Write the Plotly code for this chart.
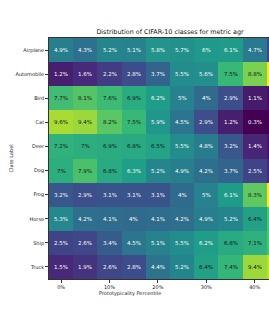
import plotly.graph_objects as go

classes = ["Airplane", "Automobile", "Bird", "Cat", "Deer", "Dog", "Frog", "Horse", "Ship", "Truck"]
percentiles = [0, 5, 10, 15, 20, 25, 30, 35, 40, 45]
tick_labels = ["0%", "10%", "20%", "30%", "40%"]

airplane = [4.9, 4.3, 5.2, 5.1, 5.8, 5.7, 6.0, 6.1, 4.7, 2.5]
automobile = [1.2, 1.6, 2.2, 2.8, 3.7, 5.5, 5.6, 7.5, 8.8, 11.0]
bird = [7.7, 8.1, 7.6, 6.9, 6.2, 5.0, 4.0, 2.9, 1.1, 0.8]
cat = [9.6, 9.4, 8.2, 7.5, 5.9, 4.5, 2.9, 1.2, 0.3, 0.3]
deer = [7.2, 7.0, 6.9, 6.8, 6.5, 5.5, 4.8, 3.2, 1.4, 1.0]
dog = [7.0, 7.9, 6.8, 6.3, 5.2, 4.9, 4.2, 3.7, 2.5, 1.5]
frog = [3.2, 2.9, 3.1, 3.1, 3.1, 4.0, 5.0, 6.1, 8.3, 11.0]
horse = [5.3, 4.2, 4.1, 4.0, 4.1, 4.2, 4.9, 5.2, 6.4, 8.0]
ship = [2.5, 2.6, 3.4, 4.5, 5.1, 5.5, 6.2, 6.8, 7.1, 8.0]
truck = [1.5, 1.9, 2.6, 2.8, 4.4, 5.2, 6.4, 7.4, 9.4, 10.0]

z = [airplane, automobile, bird, cat, deer, dog, frog, horse, ship, truck]

W, H = 269, 314
ML, MR, MT, MB = 49, 0, 38, 35
cell_w = 24.2
plot_w = W - ML - MR
plot_h = H - MT - MB
ncols_vis = plot_w / cell_w

fig = go.Figure(go.Heatmap(
    z=z, x=list(range(len(percentiles))), y=classes,
    colorscale="Viridis", zmin=0.3, zmax=11.0, showscale=False,
    xgap=0, ygap=0, hoverinfo="skip",
))

def fmt(v):
    s = f"{v:.1f}"
    if s.endswith(".0"):
        s = s[:-2]
    return s + "%"

annotations = []
for i, row in enumerate(z):
    for j, v in enumerate(row[:9]):
        annotations.append(dict(
            x=j, y=classes[i], xref="x", yref="y", text=fmt(v), showarrow=False,
            font=dict(size=5.5, color="#111111" if v >= 6.35 else "#ffffff",
                      family="DejaVu Sans"),
        ))

annotations.append(dict(text="Prototypicality Percentile", x=(130 - ML) / plot_w,
                        y=-(293 - (H - MB)) / plot_h,
                        xref="paper", yref="paper", showarrow=False, xanchor="center", yanchor="middle",
                        font=dict(size=5, family="DejaVu Sans", color="#222222")))
annotations.append(dict(text="Class Label", x=-(ML - 10) / plot_w, y=0.5, textangle=-90,
                        xref="paper", yref="paper", showarrow=False, xanchor="center", yanchor="middle",
                        font=dict(size=5, family="DejaVu Sans", color="#222222")))

fig.update_layout(
    width=W, height=H,
    margin=dict(l=ML, r=MR, t=MT, b=MB, autoexpand=False),
    paper_bgcolor="white", plot_bgcolor="white",
    font=dict(family="DejaVu Sans", size=5, color="#222222"),
    title=dict(text="Distribution of CIFAR-10 classes for metric agr",
               x=(170 - ML) / plot_w, xref="paper", xanchor="center",
               y=1 - 32 / H, yref="container", yanchor="middle",
               font=dict(size=6.4, color="#111111")),
    annotations=annotations,
    xaxis=dict(range=[-0.5, -0.5 + ncols_vis], automargin=False,
               tickvals=[0, 2, 4, 6, 8], ticktext=tick_labels,
               ticks="outside", ticklen=3, tickcolor="#333333", tickwidth=0.8,
               tickfont=dict(size=5),
               showgrid=False, zeroline=False,
               showline=True, linecolor="#333333", linewidth=0.8, mirror=True),
    yaxis=dict(autorange="reversed", automargin=False,
               ticks="outside", ticklen=3, tickcolor="#333333", tickwidth=0.8,
               tickfont=dict(size=5),
               showgrid=False, zeroline=False,
               showline=True, linecolor="#333333", linewidth=0.8, mirror=True),
)

fig.write_html("out.html", config={"displayModeBar": False},
               post_script="document.body.style.margin='0';document.body.style.overflow='hidden';")
